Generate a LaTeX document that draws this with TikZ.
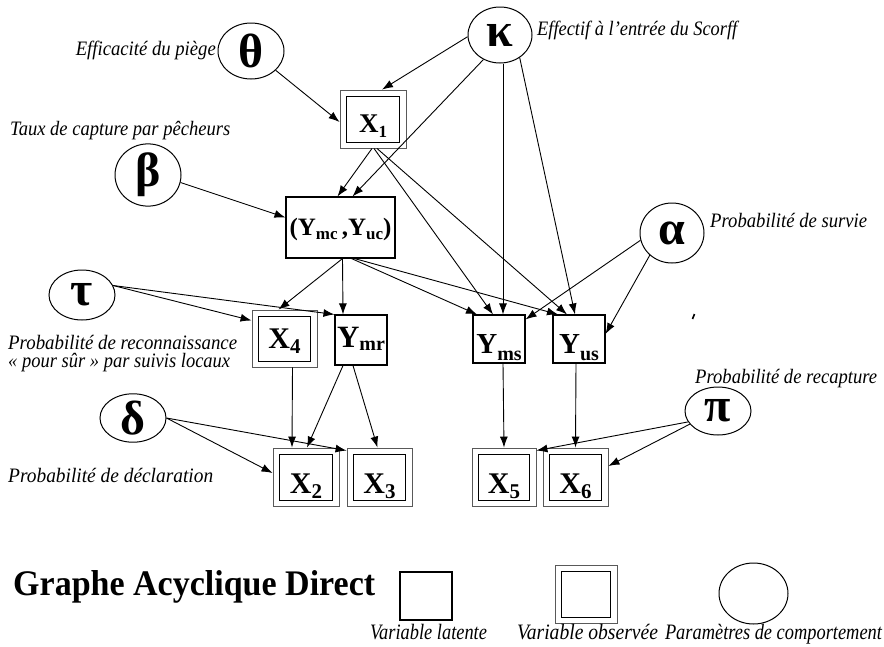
\documentclass[tikz,border=0pt]{standalone}
\usepackage{fontspec}
\setmainfont{Liberation Serif}
\usepackage{graphicx}
\usetikzlibrary{arrows.meta,calc,shapes.geometric}

% set a text to a given width, keeping its natural height
\newcommand\fitw[2]{\resizebox{#1}{\height}{#2}}
% bold letter with a lowered subscript: size, letter, sub size, sub, drop
\newcommand\vx[5]{{\fontsize{#1pt}{#1pt}\selectfont #2}\raisebox{-#5pt}{\fontsize{#3pt}{#3pt}\selectfont #4}}

\begin{document}
\begin{tikzpicture}[x=1pt,y=-1pt,
  font=\bfseries,
  param/.style={ellipse, draw, line width=1pt, inner sep=0pt,
    minimum width=66pt, minimum height=56pt,
    font=\bfseries\fontsize{48pt}{48pt}\selectfont},
  latent/.style={rectangle, draw, line width=1.1pt, inner sep=0pt,
    minimum width=52pt, minimum height=50pt},
  observed/.style={rectangle, draw=black!65, line width=0.9pt, inner sep=0pt,
    minimum width=66pt, minimum height=58pt,
    path picture={\draw[black, line width=1.2pt]
      ([xshift=6.5pt,yshift=5.5pt]path picture bounding box.south west) rectangle
      ([xshift=-6.5pt,yshift=-6.5pt]path picture bounding box.north east);}},
  bl/.style={text height=#1, text depth=0pt},
  lab/.style={font=\itshape\fontsize{20.5pt}{18.5pt}\selectfont, inner sep=0pt},
  leglab/.style={font=\itshape\fontsize{22pt}{22pt}\selectfont, inner sep=0pt, anchor=base},
  edge/.style={-{Latex[length=11pt,width=8pt]}, line width=0.9pt}]

\useasboundingbox (0,0) rectangle (884,646);

% behaviour parameters
\node[param] (theta) at (251,51) {θ};
\node[param, minimum width=64pt] (kappa) at (500,35) {κ};
\node[param] (beta) at (148,175) {β};
\node[param, minimum width=64pt, minimum height=60pt] (alpha) at (672,233) {α};
\node[param, minimum height=50pt] (tau) at (82,295) {τ};
\node[param, minimum height=48pt] (delta) at (133,418) {δ};
\node[param, minimum height=48pt] (pi) at (718,411) {π};

% observed and latent variables
\node[observed, bl=26pt] (X1) at (373,119) {\vx{27}{X}{17}{1}{5}};
\node[latent, minimum width=109pt, minimum height=61pt, bl=15pt] (YY) at (340.5,227.5)
  {{\fontsize{25pt}{25pt}\selectfont (Y\raisebox{-4pt}{\fontsize{17pt}{17pt}\selectfont mc}\,,Y\raisebox{-4pt}{\fontsize{17pt}{17pt}\selectfont uc})}};
\node[observed, minimum width=65pt, minimum height=57pt, bl=20pt] (X4) at (284.5,338.5) {\vx{30}{X}{21}{4}{5}};
\node[latent, bl=14pt] (Ymr) at (361,340) {\vx{31}{Y}{20}{mr}{3}};
\node[latent, minimum height=48pt, bl=28pt] (Yms) at (499,339) {\vx{29}{Y}{20}{ms}{7}};
\node[latent, minimum height=48pt, bl=28pt] (Yus) at (579,339) {\vx{29}{Y}{20}{us}{7}};
\node[observed, bl=32pt] (X2) at (306,477) {\vx{30}{X}{21}{2}{5}};
\node[observed, minimum width=65pt, bl=32pt] (X3) at (379.5,477) {\vx{30}{X}{21}{3}{5}};
\node[observed, minimum width=64pt, bl=32pt] (X5) at (504,477) {\vx{30}{X}{21}{5}{5}};
\node[observed, minimum width=65pt, bl=32pt] (X6) at (575.5,477) {\vx{30}{X}{21}{6}{5}};

% parameter labels
\node[lab, anchor=base east] (lTheta) at (216,55) {\fitw{140pt}{Efficacité du piège}};
\node[lab, anchor=base west] (lKappa) at (537,35) {\fitw{200pt}{Effectif à l'entrée du Scorff}};
\node[lab, anchor=base west] (lBeta) at (10,135) {\fitw{220pt}{Taux de capture par pêcheurs}};
\node[lab, anchor=base west] (lAlpha) at (710,227) {\fitw{157pt}{Probabilité de survie}};
\node[lab, anchor=north west, align=left] (lTau) at (8,335)
  {\fitw{229pt}{Probabilité de reconnaissance}\\\fitw{222pt}{« pour sûr » par suivis locaux}};
\node[lab, anchor=base west] (lDelta) at (8,482) {\fitw{205pt}{Probabilité de déclaration}};
\node[lab, anchor=base west] (lPi) at (695,383) {\fitw{182pt}{Probabilité de recapture}};

% dependencies
\draw[edge] (theta.-38) -- ($(X1.west)+(0,3)$);
\draw[edge] (kappa.183) -- ($(X1.north)+(9,0)$);
\draw[edge] (kappa.-124) -- ($(YY.north)+(12,0)$);
\draw[edge] ($(X1.south)+(-1,0)$) -- ($(YY.north)+(-3,0)$);
\draw[edge] ($(X1.south)+(1,0)$) -- ($(Yms.north)+(-6,0)$);
\draw[edge] ($(X1.south)+(4,0)$) -- ($(Yus.north)+(-12,0)$);
\draw[edge] ($(kappa.south)+(3,0)$) -- ($(Yms.north)+(4,0)$);
\draw[edge] (kappa.-49) -- ($(Yus.north)+(-4,0)$);
\draw[edge] (beta.-13) -- ($(YY.west)+(0,-10)$);
\draw[edge] ($(YY.south)+(2,0)$) -- ($(X4.north)+(-6,0)$);
\draw[edge] ($(YY.south)+(2,0)$) -- ($(Ymr.north)+(-18,0)$);
\draw[edge] ($(YY.south)+(11,0)$) -- ($(Yms.north)+(-22,0)$);
\draw[edge] ($(YY.south)+(14,0)$) -- ($(Yus.north)+(-21,0)$);
\draw[edge] (alpha.193) -- ($(Yms.north east)+(0,5)$);
\draw[edge] (alpha.-135) -- ($(Yus.east)+(0,-5)$);
\draw[edge] (tau.17) -- ($(X4.west)+(0,-18)$);
\draw[edge] (tau.17) -- (Ymr.north west);
\draw[edge] ($(X4.south)+(8,0)$) -- ($(X2.north)+(-14,0)$);
\draw[edge] ($(Ymr.south)+(-18,0)$) -- ($(X2.north)+(1,0)$);
\draw[edge] ($(Ymr.south)+(-8,0)$) -- ($(X3.north)+(-2,0)$);
\draw[edge] (delta.east) -- ($(X2.west)+(0,-4)$);
\draw[edge] (delta.east) -- ($(X3.north west)+(0,3)$);
\draw[edge] ($(Yms.south)+(4,0)$) -- (X5.north);
\draw[edge] ($(Yus.south)+(-3,0)$) -- (X6.north);
\draw[edge] (pi.200) -- ($(X5.north east)+(0,3)$);
\draw[edge] (pi.205) -- ($(X6.east)+(0,-11)$);

% small stray stroke
\coordinate (tickA) at (692.5,319);
\coordinate (tickB) at (694.5,314);
\draw[line width=1.6pt] (tickA) -- (tickB);

% legend
\node[anchor=base west, inner sep=0pt, font=\bfseries\fontsize{36pt}{36pt}\selectfont] (title) at (13,595)
  {\fitw{362pt}{Graphe Acyclique Direct}};
\node[latent, minimum width=52pt, minimum height=48pt] (legL) at (426,596) {};
\node[observed, minimum width=62pt, minimum height=58pt] (legO) at (586,594) {};
\node[param, minimum width=69pt, minimum height=61pt] (legP) at (753.5,593.5) {};
\node[leglab] (legLt) at (428.5,639) {\fitw{117pt}{Variable latente}};
\node[leglab] (legOt) at (587.5,639) {\fitw{141pt}{Variable observée}};
\node[leglab] (legPt) at (773.5,639) {\fitw{217pt}{Paramètres de comportement}};
\end{tikzpicture}
\end{document}
